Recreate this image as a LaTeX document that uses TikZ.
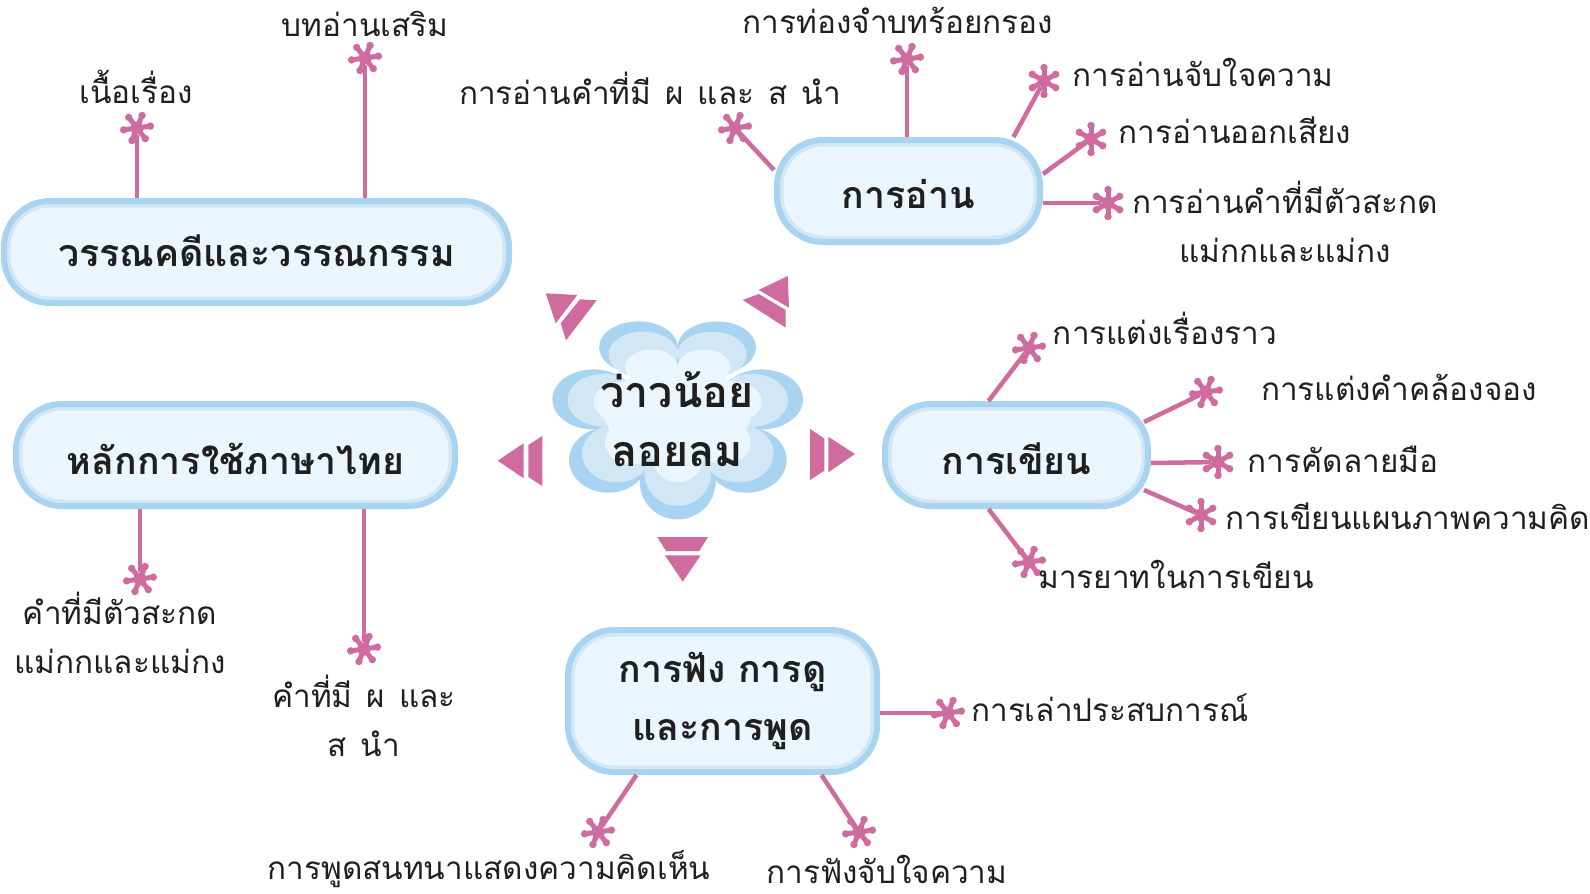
\documentclass[tikz,border=0pt]{standalone}
\usepackage{fontspec}
\newfontfamily\thaifont[Script=Thai]{Loma}
\definecolor{linkpink}{HTML}{CE6C9F}
\definecolor{rimblue}{HTML}{A8D3F1}
\definecolor{midblue}{HTML}{D2E7F6}
\definecolor{paleblue}{HTML}{EBF5FD}
\tikzset{
	topic/.style={draw=rimblue, line width=6pt, fill=paleblue, rounded corners=46pt, inner sep=0pt, align=center,
		font=\thaifont\bfseries\fontsize{37.5}{58.5}\selectfont, text=black!88,
		path picture={\draw[midblue, line width=13pt, rounded corners=46pt] (path picture bounding box.south west) rectangle (path picture bounding box.north east);}},
	oneline/.style={text height=#1, text depth=6pt},
	leaf/.style={inner sep=0pt, align=center, font=\thaifont\fontsize{31.5}{49.5}\selectfont, text=black!88},
	spaced/.style={execute at begin node={\spaceskip=14pt\relax}},
	link/.style={linkpink, line width=4.5pt},
	seed/.style={circle, fill=linkpink, inner sep=0pt, minimum size=13pt},
	wedge/.style={fill=linkpink}
}
% ดอกจันปลายเส้น
\newcommand{\flake}[4]{
	\node[seed] (#1) at (#2,#3) {};
	\foreach \a in {0,60,...,300} {
		\draw[linkpink, line width=5pt] (#1.center) -- ++(\a+#4:13.5pt);
		\fill[linkpink] (#1.center) ++(\a+#4:13.5pt) circle (3.7pt);
	}
}
\begin{document}
\begin{tikzpicture}[x=1pt, y=-1pt]
	\useasboundingbox (0,0) rectangle (1590,894);

	% ดอกไม้ตรงกลาง
	\foreach \s/\c in {1/rimblue, 0.88/midblue, 0.67/paleblue} {
		\begin{scope}[shift={(677.7,406.7)}, scale=\s]
			\fill[\c] (0,0) circle (50);
			\fill[\c] (-39.3,-59.3) ellipse (39.3 and 26);
			\fill[\c] (39,-59.3) ellipse (39.3 and 26);
			\fill[\c] (-84.3,-7.3) ellipse (41 and 30);
			\fill[\c] (84,-7.3) ellipse (41.3 and 30);
			\fill[\c] (-69.3,53.3) ellipse (39.3 and 32.7);
			\fill[\c] (69,53.3) ellipse (40 and 32.7);
			\fill[\c] (0,75) ellipse (38 and 37.7);
		\end{scope}
	}
	\fill[paleblue] (677.7,412) ellipse (74 and 44);
	\node[inner sep=0pt, align=center, font=\thaifont\bfseries\fontsize{43}{59}\selectfont, text=black!88] (Kite) at (677,419) {ว่าวน้อย\\ลอยลม};

	% ลูกศรสามเหลี่ยม
	\fill[wedge] (545.7,293.3) -- (577.3,295) -- (555.7,323.3) -- cycle;
	\fill[wedge] (580,299.3) -- (596.7,300.3) -- (566,340.3) -- (560.7,323.3) -- cycle;
	\fill[wedge] (787.7,276) -- (789,307.7) -- (758.7,290) -- cycle;
	\fill[wedge] (758.7,294) -- (785.7,310) -- (785.7,327.7) -- (742.7,300) -- cycle;
	\fill[wedge] (810,429) -- (824.3,438.3) -- (824.3,470.7) -- (810,480) -- cycle;
	\fill[wedge] (828.3,436.7) -- (855,454) -- (828.3,472.3) -- cycle;
	\fill[wedge] (657.3,537) -- (708,537) -- (699.3,551) -- (666,551) -- cycle;
	\fill[wedge] (665,555.3) -- (700.7,555.3) -- (682.7,581.7) -- cycle;
	\fill[wedge] (542.3,436) -- (528.3,445) -- (528.3,477) -- (542.3,486) -- cycle;
	\fill[wedge] (523.7,443.3) -- (497.7,460.7) -- (523.7,478.3) -- cycle;

	% หัวข้อ
	\node[topic, oneline=34pt, minimum width=505pt, minimum height=102pt] (Lit) at (256.5,252) {วรรณคดีและวรรณกรรม};
	\node[topic, oneline=40pt, minimum width=263pt, minimum height=102pt] (Read) at (908.5,191) {การอ่าน};
	\node[topic, oneline=44pt, minimum width=439pt, minimum height=102pt] (Rule) at (235.5,455) {หลักการใช้ภาษาไทย};
	\node[topic, oneline=44pt, minimum width=263pt, minimum height=102pt] (Write) at (1016.5,455) {การเขียน};
	\node[topic, minimum width=309pt, minimum height=142pt] (Talk) at (722.5,701) {การฟัง การดู\\และการพูด};

	% วรรณคดี
	\flake{LitA}{137}{128}{8}
	\flake{LitB}{365}{58}{8}
	\draw[link] ([xshift=-119.5pt]Lit.north) -- (LitA);
	\draw[link] ([xshift=108.5pt]Lit.north) -- (LitB);
	\node[leaf] (LitAt) at (136,87) {เนื้อเรื่อง};
	\node[leaf] (LitBt) at (365,24) {บทอ่านเสริม};

	% การอ่าน
	\flake{ReadA}{735}{128}{8}
	\flake{ReadB}{907}{59}{8}
	\flake{ReadC}{1044}{81}{30}
	\flake{ReadD}{1091}{139}{30}
	\flake{ReadE}{1108}{203}{30}
	\draw[link] ([yshift=21pt]Read.west) -- (ReadA);
	\draw[link] (Read.north -| ReadB) -- (ReadB);
	\draw[link] ([xshift=105pt]Read.north) -- (ReadC);
	\draw[link] ([yshift=17pt]Read.east) -- (ReadD);
	\draw[link] ([yshift=-12pt]Read.east) -- (ReadE);
	\node[leaf, spaced] (ReadAt) at (650,88) {การอ่านคำที่มี ผ และ ส นำ};
	\node[leaf] (ReadBt) at (898,20) {การท่องจำบทร้อยกรอง};
	\node[leaf] (ReadCt) at (1203,72) {การอ่านจับใจความ};
	\node[leaf] (ReadDt) at (1235,130) {การอ่านออกเสียง};
	\node[leaf] (ReadEt) at (1285,222) {การอ่านคำที่มีตัวสะกด\\แม่กกและแม่กง};

	% การเขียน
	\flake{WriteA}{1029}{348}{8}
	\flake{WriteB}{1206}{392}{8}
	\flake{WriteC}{1218}{462}{30}
	\flake{WriteD}{1201}{515}{30}
	\flake{WriteE}{1029}{562}{8}
	\draw[link] ([xshift=-28pt]Write.north) -- (WriteA);
	\draw[link] ([xshift=-7pt,yshift=33pt]Write.east) -- (WriteB);
	\draw[link] ([yshift=-8pt]Write.east) -- (WriteC);
	\draw[link] ([xshift=-7pt,yshift=-35pt]Write.east) -- (WriteD);
	\draw[link] ([xshift=-28pt]Write.south) -- (WriteE);
	\node[leaf] (WriteAt) at (1165,328) {การแต่งเรื่องราว};
	\node[leaf] (WriteBt) at (1399,387) {การแต่งคำคล้องจอง};
	\node[leaf] (WriteCt) at (1343,459) {การคัดลายมือ};
	\node[leaf] (WriteDt) at (1408,516) {การเขียนแผนภาพความคิด};
	\node[leaf] (WriteEt) at (1176,574) {มารยาทในการเขียน};

	% หลักการใช้ภาษา
	\flake{RuleA}{140}{579}{8}
	\flake{RuleB}{364}{649}{8}
	\draw[link] ([xshift=-95.5pt]Rule.south) -- (RuleA);
	\draw[link] ([xshift=128.5pt]Rule.south) -- (RuleB);
	\node[leaf] (RuleAt) at (120,633) {คำที่มีตัวสะกด\\แม่กกและแม่กง};
	\node[leaf, spaced] (RuleBt) at (364,716) {คำที่มี ผ และ\\ส นำ};

	% การฟัง การดู และการพูด
	\flake{TalkA}{948}{713}{8}
	\flake{TalkB}{598}{832}{8}
	\flake{TalkC}{859}{832}{8}
	\draw[link] ([yshift=-12pt]Talk.east) -- (TalkA);
	\draw[link] ([xshift=-86pt]Talk.south) -- (TalkB);
	\draw[link] ([xshift=99pt]Talk.south) -- (TalkC);
	\node[leaf] (TalkAt) at (1110,708) {การเล่าประสบการณ์};
	\node[leaf] (TalkBt) at (489,869) {การพูดสนทนาแสดงความคิดเห็น};
	\node[leaf] (TalkCt) at (887,869) {การฟังจับใจความ};
\end{tikzpicture}
\end{document}
